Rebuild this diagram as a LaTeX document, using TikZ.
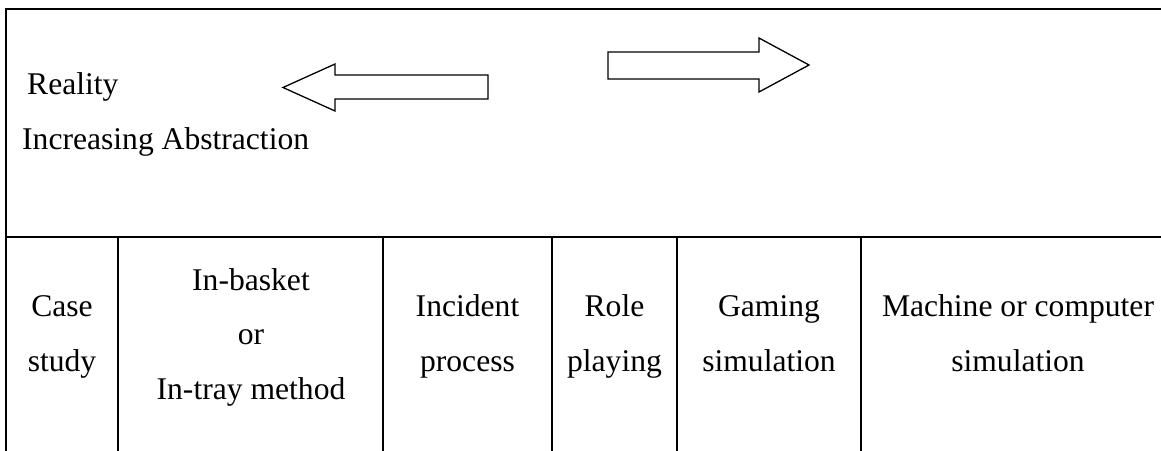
\documentclass[tikz,border=0pt]{standalone}
\usepackage{fontspec}
\setmainfont{Liberation Serif}
\begin{document}
\begin{tikzpicture}[x=1pt,y=-1pt,
  rule/.style={line width=2.2pt,line cap=rect},
  blockarrow/.style={draw,line width=1.3pt,line join=miter,fill=white},
  % multi-line cells: the base anchor sits on the baseline of the last line
  celltext/.style={align=center,inner sep=0pt,anchor=base,
    font=\fontsize{31.6}{54.5}\selectfont},
  lefttext/.style={inner sep=0pt,anchor=base west,
    font=\fontsize{31.6}{54.5}\selectfont}]
\useasboundingbox (0,0) rectangle (1161,450);

% table frame: top edge, left edge and the rule under the heading row
\coordinate (tl) at (6,9);
\coordinate (tr) at (1170,9);
\coordinate (bl) at (6,460);
\coordinate (ml) at (6,237);
\coordinate (mr) at (1170,237);
\draw[rule] (tr) -- (tl) -- (bl);
\draw[rule] (ml) -- (mr);

% column separators of the lower row
\foreach \cx/\nm in {118/c1,383/c2,552/c3,677/c4,861/c5}{
  \coordinate (\nm top) at (\cx,237);
  \coordinate (\nm bot) at (\cx,460);
  \draw[rule] (\nm top) -- (\nm bot);
}

% heading row
\node[lefttext] (reality) at (27,94) {Reality};
\node[lefttext] (abstr) at (22,149) {Increasing Abstraction};

% block arrow pointing left
\draw[blockarrow] (488,75) -- (335,75) -- (335,64) -- (283,87.5)
  -- (335,111) -- (335,99) -- (488,99) -- cycle;
% block arrow pointing right
\draw[blockarrow] (608,52) -- (759,52) -- (759,38) -- (809,65)
  -- (759,92) -- (759,79) -- (608,79) -- cycle;

% lower row cells
\node[celltext] (case) at (62,371) {Case\\study};
\node[celltext] (basket) at (251,399) {In-basket\\or\\In-tray method};
\node[celltext] (incident) at (467.5,371) {Incident\\process};
\node[celltext] (role) at (614.5,371) {Role\\playing};
\node[celltext] (gaming) at (769,371) {Gaming\\simulation};
\node[celltext] (machine) at (1018,371) {Machine or computer\\simulation};
\end{tikzpicture}
\end{document}
